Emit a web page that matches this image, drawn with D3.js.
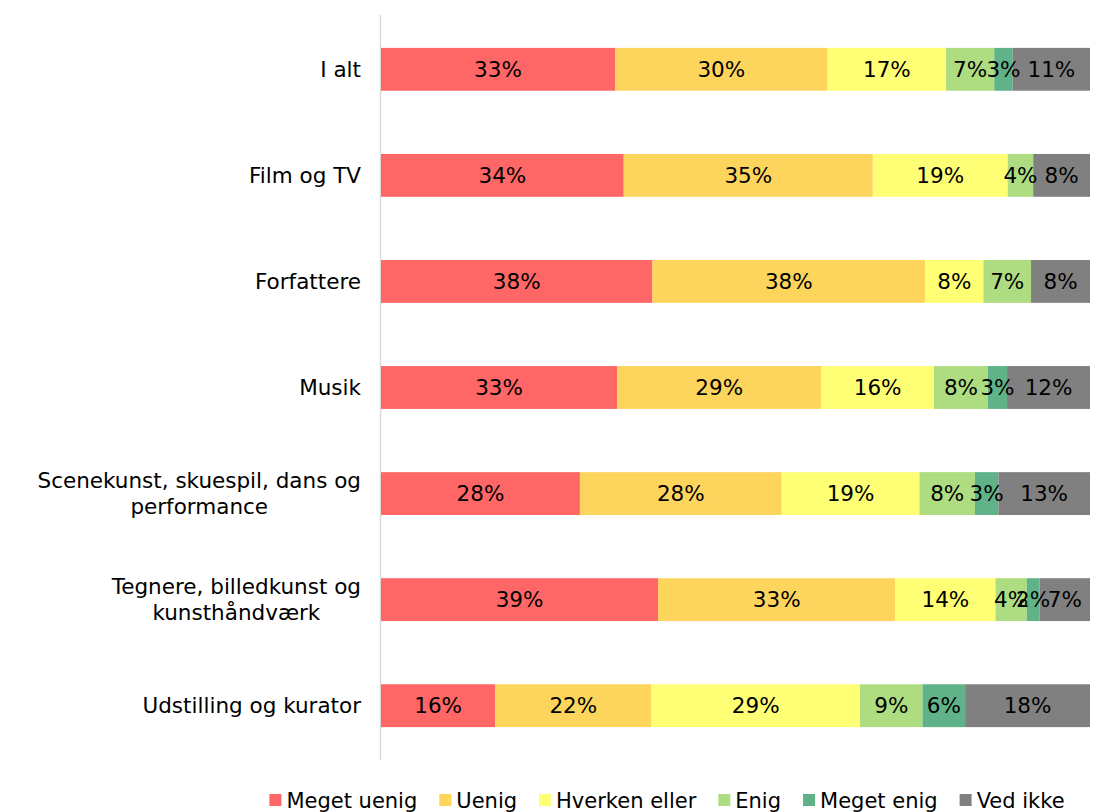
<!DOCTYPE html>
<html>
<head>
<meta charset="utf-8">
<script src="https://cdn.jsdelivr.net/npm/d3@7"></script>
<style>
  html, body { margin: 0; padding: 0; background: #fff; }
  svg { display: block; font-family: "DejaVu Sans", Verdana, sans-serif; }
</style>
</head>
<body>
<svg id="chart" width="1109" height="812"></svg>
<script>
// Categories (top to bottom); "\n" splits a label over two lines
const categories = [
  "I alt",
  "Film og TV",
  "Forfattere",
  "Musik",
  "Scenekunst, skuespil, dans og\nperformance",
  "Tegnere, billedkunst og\nkunsthåndværk",
  "Udstilling og kurator"
];

// Answer options, in stacking order
const seriesNames = ["Meget uenig", "Uenig", "Hverken eller", "Enig", "Meget enig", "Ved ikke"];
const seriesColors = ["#FF6666", "#FDD55C", "#FFFF75", "#AEDC80", "#60B388", "#808080"];

// Share of answers (%) per answer option, one value per category
const megetUenig   = [33.0, 34.2, 38.2, 33.3, 28.0, 39.0, 16.1];
const uenig        = [30.0, 35.1, 38.4, 28.8, 28.4, 33.4, 22.0];
const hverkenEller = [16.7, 19.0, 8.2, 15.9, 19.4, 14.1, 29.4];
const enig         = [6.8, 3.6, 6.7, 7.6, 7.8, 4.4, 8.8];
const megetEnig    = [2.6, 0, 0, 2.7, 3.3, 1.8, 6.0];
const vedIkke      = [10.9, 8.0, 8.3, 11.7, 12.9, 7.1, 17.6];

const seriesValues = [megetUenig, uenig, hverkenEller, enig, megetEnig, vedIkke];

// Rows for d3.stack
const rows = categories.map((c, i) => {
  const r = { category: c };
  seriesNames.forEach((s, j) => { r[s] = seriesValues[j][i]; });
  return r;
});

const svg = d3.select("#chart");
const plot = { left: 381, right: 1090, top: 15, bottom: 760 };

const stack = d3.stack().keys(seriesNames).offset(d3.stackOffsetExpand);
const stacked = stack(rows);

const x = d3.scaleLinear().domain([0, 1]).range([plot.left, plot.right]);
const y = d3.scaleBand().domain(categories).range([plot.top, plot.bottom]).paddingInner(0.596).paddingOuter(0.31);
const color = d3.scaleOrdinal().domain(seriesNames).range(seriesColors);

// Category axis line
svg.append("line")
  .attr("x1", plot.left - 0.5).attr("x2", plot.left - 0.5)
  .attr("y1", plot.top).attr("y2", plot.bottom)
  .attr("stroke", "#D9D9D9").attr("stroke-width", 1.5);

// Stacked segments
const layers = svg.append("g").selectAll("g")
  .data(stacked)
  .join("g")
  .attr("fill", d => color(d.key));

layers.selectAll("rect")
  .data(d => d.map(p => ({ key: d.key, p })))
  .join("rect")
  .attr("x", d => x(d.p[0]))
  .attr("y", d => y(d.p.data.category))
  .attr("width", d => Math.max(0, x(d.p[1]) - x(d.p[0])))
  .attr("height", y.bandwidth());

// Value labels centred in each segment
const labels = svg.append("g")
  .attr("font-size", 21.5)
  .attr("fill", "#000")
  .attr("text-anchor", "middle");

stacked.forEach(layer => {
  layer.forEach(p => {
    const v = p.data[layer.key];
    if (!v) return;
    labels.append("text")
      .attr("x", (x(p[0]) + x(p[1])) / 2)
      .attr("y", y(p.data.category) + y.bandwidth() / 2)
      .attr("dy", "0.36em")
      .text(Math.round(v) + "%");
  });
});

// Category labels, right aligned next to the axis
const catLabels = svg.append("g")
  .attr("font-size", 21.5)
  .attr("fill", "#000")
  .attr("text-anchor", "middle");

categories.forEach(c => {
  const lines = c.split("\n");
  const cy = y(c) + y.bandwidth() / 2;
  const lh = 26;
  const t = catLabels.append("text").attr("y", cy - (lines.length - 1) * lh / 2);
  lines.forEach((ln, i) => {
    t.append("tspan").attr("dy", i === 0 ? "0.36em" : lh).text(ln);
  });
  // centre the lines on each other, then align the block's right edge
  const tspans = t.selectAll("tspan").nodes();
  const widths = tspans.map(n => n.getComputedTextLength());
  const maxW = d3.max(widths);
  const cx = plot.left - 20 - maxW / 2;
  tspans.forEach(n => d3.select(n).attr("x", cx));
});

// Legend
const legend = svg.append("g").attr("font-size", 21);
const items = [];
seriesNames.forEach((s, i) => {
  const g = legend.append("g");
  g.append("rect").attr("x", 0).attr("y", -6).attr("width", 12).attr("height", 12).attr("fill", seriesColors[i]);
  const tx = g.append("text").attr("x", 17).attr("dy", "0.36em").text(s);
  const w = 17 + tx.node().getComputedTextLength();
  items.push({ g, w });
});
const gap = 22;
const total = d3.sum(items, d => d.w) + gap * (items.length - 1);
let lx = 667 - total / 2;
items.forEach(it => {
  it.g.attr("transform", `translate(${lx},800)`);
  lx += it.w + gap;
});
</script>
</body>
</html>
